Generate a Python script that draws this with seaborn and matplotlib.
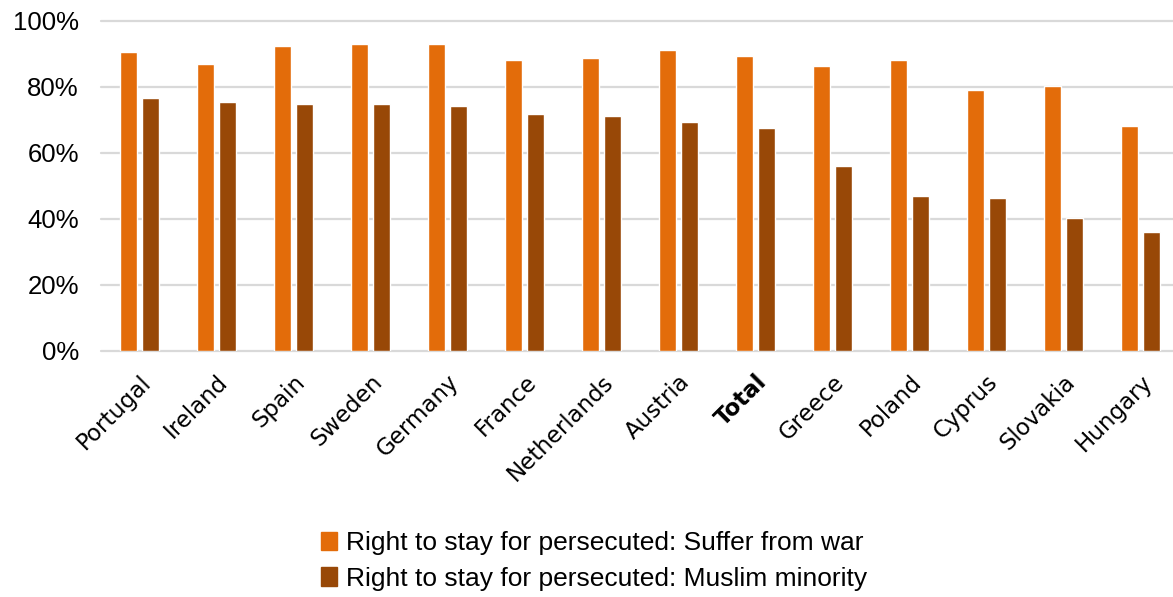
import pandas as pd
import seaborn as sns
import matplotlib.pyplot as plt
from matplotlib.ticker import FuncFormatter

countries = ['Portugal', 'Ireland', 'Spain', 'Sweden', 'Germany', 'France', 'Netherlands',
             'Austria', 'Total', 'Greece', 'Poland', 'Cyprus', 'Slovakia', 'Hungary']
war = [90.6, 87.1, 92.4, 93.0, 93.0, 88.2, 88.9, 91.2, 89.4, 86.4, 88.2, 79.1, 80.3, 68.2]
muslim = [76.7, 75.5, 74.8, 74.8, 74.2, 71.8, 71.2, 69.4, 67.6, 56.1, 46.9, 46.4, 40.3, 36.1]
series = ['Right to stay for persecuted: Suffer from war',
          'Right to stay for persecuted: Muslim minority']
colors = ['#E36C0A', '#984807']

df = pd.DataFrame({
    'country': countries * 2,
    'value': war + muslim,
    'series': [series[0]] * len(countries) + [series[1]] * len(countries),
})

sns.set_style('white')
plt.rcParams['text.color'] = 'black'
plt.rcParams['xtick.color'] = 'black'
plt.rcParams['ytick.color'] = 'black'
fig = plt.figure(figsize=(11.73, 5.97), dpi=100)
# axes runs a bit past the right edge of the figure, like the reference
ax = fig.add_axes([101 / 1173, 1 - 351 / 597, 1078 / 1173, 330 / 597])

sns.barplot(data=df, x='country', y='value', hue='series', palette=colors,
            width=0.57, gap=0.23, ax=ax, saturation=1, legend=True)

ax.set_ylim(0, 100)
ax.set_xlim(-0.5, len(countries) - 0.5)
ax.set_yticks([0, 20, 40, 60, 80, 100])
ax.yaxis.set_major_formatter(FuncFormatter(lambda v, p: f'{v:.0f}%'))
ax.yaxis.grid(True, color='#D9D9D9', linewidth=1.6)
ax.set_axisbelow(True)
for gl in ax.get_ygridlines():
    gl.set_clip_on(False)
for s in ax.spines.values():
    s.set_visible(False)
ax.set_xlabel('')
ax.set_ylabel('')
ax.tick_params(axis='both', length=0, labelcolor='black')
ax.tick_params(axis='y', pad=16)

for lab in ax.get_yticklabels():
    lab.set_fontfamily('Liberation Sans')
    lab.set_fontsize(18.5)
ax.set_xticks(range(len(countries)))
ax.set_xticklabels(countries, rotation=45, ha='right', rotation_mode='anchor',
                   fontsize=16.5, family='DejaVu Sans')
for lab in ax.get_xticklabels():
    if lab.get_text() == 'Total':
        lab.set_fontweight('bold')
ax.tick_params(axis='x', pad=14)

ax.legend_.remove()
handles = [plt.Rectangle((0, 0), 1, 1, color=c) for c in colors]
fig.legend(handles, series, loc='center left', bbox_to_anchor=(297 / 1173, 1 - 561 / 597),
           frameon=False, prop={'family': 'Liberation Sans', 'size': 19},
           handlelength=0.6, handleheight=0.7, handletextpad=0.35, labelspacing=0.42,
           labelcolor='black')

fig.savefig('out.png', dpi=100)
